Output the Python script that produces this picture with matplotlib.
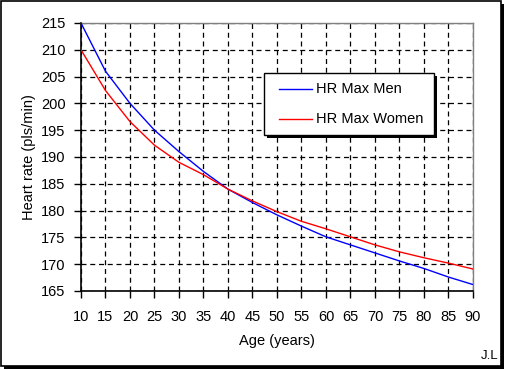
import matplotlib
matplotlib.use("Agg")
import matplotlib.pyplot as plt
from matplotlib.patches import Rectangle

ages = [10, 15, 20, 25, 30, 35, 40, 45, 50, 55, 60, 65, 70, 75, 80, 85, 90]
hr_men = [215, 206, 200, 195, 191, 187.3, 184, 181.5, 179.2, 177.1, 175.1, 173.6, 172.1, 170.6, 169.2, 167.6, 166.2]
hr_women = [210, 202.4, 196.6, 192.2, 189, 186.7, 184, 181.8, 179.8, 178.0, 176.6, 175.1, 173.6, 172.3, 171.2, 170.2, 169.1]
x_ticks = list(range(10, 95, 5))
y_ticks = list(range(165, 220, 5))

plt.rcParams['font.family'] = ['Liberation Sans', 'DejaVu Sans']
W, H = 506, 370
fig = plt.figure(figsize=(W/100, H/100), dpi=100)

# frame with shadow (pixel coords)
fig.patches.append(Rectangle((4/W, 1 - 369/H), 500/W, 365/H, transform=fig.transFigure,
                             facecolor='black', edgecolor='none', zorder=0))
fig.patches.append(Rectangle((1/W, 1 - 365.5/H), 500/W, 364.5/H, transform=fig.transFigure,
                             facecolor='white', edgecolor='black', lw=1.2, zorder=0.5))

l, r, t, b = 81, 473, 23, 291
ax = fig.add_axes([l/W, 1 - b/H, (r - l)/W, (b - t)/H])
ax.set_zorder(2)
ax.set_facecolor('none')
ax.plot(ages, hr_men, color='#0000ff', lw=1, label='HR Max Men', zorder=3)
ax.plot(ages, hr_women, color='#ff0000', lw=1, label='HR Max Women', zorder=3)
ax.set_xlim(10, 90)
ax.set_ylim(165, 215)
ax.set_xticks(x_ticks)
ax.set_yticks(y_ticks)
ax.grid(True, color='black', linestyle=(0, (4, 3)), lw=0.9)
for s in ['left', 'bottom']:
    ax.spines[s].set_color('black')
    ax.spines[s].set_linewidth(1.2)
for s in ['top', 'right']:
    ax.spines[s].set_color('#808080')
    ax.spines[s].set_linewidth(1)
ax.tick_params(axis='both', direction='out', length=5, width=1, labelsize=10.5, colors='black')
ax.tick_params(axis='x', pad=9)
ax.tick_params(axis='y', pad=6)
ax.set_xlabel('Age (years)', fontsize=10.5, labelpad=7)
ax.set_ylabel('Heart rate (pls/min)', fontsize=10.5, labelpad=4)

# legend box with shadow
lx0, ly0, lx1, ly1 = 264, 73, 434, 135
fig.patches.append(Rectangle((lx0/W + 3/W, 1 - (ly1 + 3)/H), (lx1 - lx0)/W, (ly1 - ly0)/H,
                             transform=fig.transFigure, facecolor='black', edgecolor='none', zorder=5))
fig.patches.append(Rectangle((lx0/W, 1 - ly1/H), (lx1 - lx0)/W, (ly1 - ly0)/H,
                             transform=fig.transFigure, facecolor='white', edgecolor='black', lw=1, zorder=6))
for (yy, col, lab) in [(89, '#0000ff', 'HR Max Men'), (119, '#ff0000', 'HR Max Women')]:
    fig.add_artist(plt.Line2D([279/W, 312/W], [1 - yy/H, 1 - yy/H], color=col, lw=1, transform=fig.transFigure, zorder=7))
    fig.text(316/W, 1 - yy/H, lab, fontsize=10.5, va='center', ha='left', zorder=8)

fig.text(498/W, 1 - 356/H, 'J.L', fontsize=9.5, ha='right', va='center')

fig.savefig('out.png', dpi=100)
